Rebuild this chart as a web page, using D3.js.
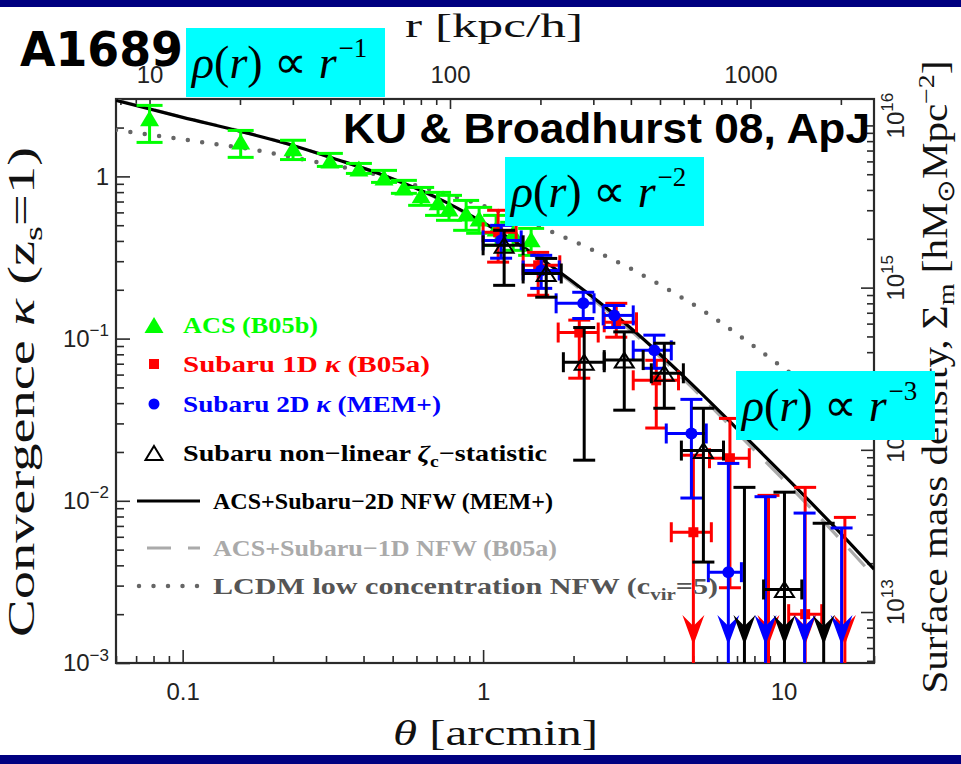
<!DOCTYPE html>
<html>
<head>
<meta charset="utf-8">
<title>A1689 convergence profile</title>
<script src="https://cdn.jsdelivr.net/npm/d3@7/dist/d3.min.js"></script>
<style>
  html, body { margin: 0; padding: 0; background: #fff; }
  svg { display: block; }
</style>
</head>
<body>
<svg id="chart" width="961" height="764"></svg>
<script>
// ---- axis ticks ----
const thetaMajor = [0.1, 1, 10];
const kappaMajor = [1e-3, 1e-2, 1e-1, 1];
const rMajor = [10, 100, 1000];
const sigmaMajor = [1e13, 1e14, 1e15, 1e16];

// ---- conversions for the secondary axes ----
const kpcPerArcmin = 128.9;   // r [kpc/h] per arcmin
const sigmaCrit = 4.85e15;    // Σ_m per unit κ [h M☉ Mpc^-2]

// ---- ACS (B05b): [θ, κ, κ low, κ high] ----
const acs = [
  [0.0776, 2.28, 1.62, 2.74],
  [0.156, 1.64, 1.31, 1.92],
  [0.233, 1.49, 1.27, 1.67],
  [0.309, 1.255, 1.152, 1.386],
  [0.386, 1.12, 1.043, 1.202],
  [0.468, 0.986, 0.918, 1.089],
  [0.545, 0.855, 0.786, 0.945],
  [0.622, 0.764, 0.663, 0.855],
  [0.708, 0.692, 0.575, 0.797],
  [0.770, 0.635, 0.536, 0.764],
  [0.878, 0.591, 0.465, 0.711],
  [0.970, 0.551, 0.446, 0.644],
  [1.105, 0.478, 0.376, 0.575],
  [1.259, 0.446, 0.350, 0.521],
  [1.445, 0.409, 0.326, 0.478]
];

// ---- Subaru profiles: [θ, θ low, θ high, κ, κ low, κ high]; κ low null = upper limit ----
const subaru1D = [
  [1.122, 1.0, 1.288, 0.452, 0.296, 0.618],
  [1.525, 1.359, 1.80, 0.283, 0.185, 0.340],
  [2.09, 1.778, 2.416, 0.109, 0.057, 0.130],
  [2.775, 2.53, 3.24, 0.126, 0.102, 0.165],
  [3.77, 3.16, 4.47, 0.0553, 0.0281, 0.0735],
  [5.01, 4.23, 5.75, 0.0064, null, 0.0191],
  [6.63, 5.67, 7.69, 0.0183, 0.00291, 0.0322],
  [8.91, null, null, null, null, 0.0108],
  [11.8, 10.4, 13.4, 0.0020, null, 0.0121],
  [16.0, null, null, null, null, 0.0079]
];
const subaru2D = [
  [1.148, 1.0, 1.339, 0.403, 0.313, 0.499],
  [1.561, 1.359, 1.792, 0.263, 0.204, 0.326],
  [2.154, 1.75, 2.34, 0.165, 0.133, 0.193],
  [2.733, 2.51, 3.16, 0.139, 0.117, 0.160],
  [3.715, 3.16, 4.23, 0.0846, 0.0656, 0.105],
  [4.935, 4.07, 5.53, 0.0260, 0.0104, 0.0422],
  [6.55, 5.62, 7.24, 0.00363, null, 0.0170],
  [8.71, null, null, null, null, 0.0106],
  [11.75, null, null, null, null, 0.0084],
  [15.6, null, null, null, null, 0.0068]
];
const zetaC = [
  [1.175, 1.0, 1.359, 0.376, 0.213, 0.465],
  [1.622, 1.359, 1.82, 0.252, 0.180, 0.312],
  [2.17, 1.85, 2.53, 0.0715, 0.0178, 0.117],
  [2.95, 2.53, 3.41, 0.0737, 0.0362, 0.110],
  [4.01, 3.63, 4.64, 0.0611, 0.0372, 0.0936],
  [5.41, 4.57, 6.31, 0.0204, 0.00419, 0.0372],
  [7.41, null, null, null, null, 0.0121],
  [10.07, 8.58, 11.5, 0.00284, null, 0.0113],
  [13.6, null, null, null, null, 0.00727]
];

// ---- model profiles: [θ, κ] ----
const nfw2D = [[0.06, 2.94], [0.1, 2.31], [0.156, 1.894], [0.233, 1.552], [0.318, 1.291],
  [0.468, 1.014], [0.687, 0.753], [1.0, 0.52], [1.48, 0.331], [2.17, 0.198], [3.19, 0.111],
  [4.68, 0.0578], [6.87, 0.0288], [10.1, 0.01418], [14.8, 0.00688], [20, 0.00379]];
const nfw1D = [[0.06, 2.96], [0.1, 2.32], [0.156, 1.90], [0.233, 1.555], [0.318, 1.29],
  [0.468, 1.01], [0.687, 0.748], [1.0, 0.515], [1.48, 0.326], [2.17, 0.193], [3.19, 0.107],
  [4.68, 0.0555], [6.87, 0.0272], [10.1, 0.0132], [14.8, 0.0063], [20, 0.00342]];
const lcdm = [[0.06, 1.93], [0.067, 1.875], [0.096, 1.714], [0.124, 1.597], [0.178, 1.446],
  [0.261, 1.255], [0.386, 1.089], [0.598, 0.880], [1.0, 0.66], [1.646, 0.465], [2.291, 0.355],
  [3.04, 0.275], [4.01, 0.207], [5.45, 0.147], [7.40, 0.0991], [10.23, 0.0638], [20, 0.0240]];

// ---- legend labels ----
const legendLabels = [
  [{t: 'ACS (B05b)'}],
  [{t: 'Subaru 1D '}, {t: 'κ', i: true}, {t: ' (B05a)'}],
  [{t: 'Subaru 2D '}, {t: 'κ', i: true}, {t: ' (MEM+)'}],
  [{t: 'Subaru non\u2212linear '}, {t: 'ζ', i: true}, {t: 'c', sub: true}, {t: '\u2212statistic', up: true}],
  [{t: 'ACS+Subaru\u22122D NFW (MEM+)'}],
  [{t: 'ACS+Subaru\u22121D NFW (B05a)'}],
  [{t: 'LCDM low concentration NFW (c'}, {t: 'vir', sub: true}, {t: '=5)', up: true}]
];

// ---------------------------------------------------------------------------
const W = 961, H = 764;
const P = {l: 116, r: 874, t: 99, b: 663};
const x = d3.scaleLog().domain([0.06, 20]).range([P.l, P.r]);
const y = d3.scaleLog().domain([1e-3, 3]).range([P.b, P.t]);
const xr = d3.scaleLog().domain(x.domain().map(v => v * kpcPerArcmin)).range([P.l, P.r]);
const ys = d3.scaleLog().domain(y.domain().map(v => v * sigmaCrit)).range([P.b, P.t]);

const svg = d3.select('#chart');
const AX = '#2a2a2a';
const tickFont = "'Liberation Sans', Arial, sans-serif";
const serif = "'Liberation Serif', 'Times New Roman', serif";

svg.append('rect').attr('width', W).attr('height', H).attr('fill', '#fff');
svg.append('rect').attr('width', W).attr('height', 7).attr('fill', '#000080');
svg.append('rect').attr('y', 755).attr('width', W).attr('height', 9).attr('fill', '#000080');

svg.append('defs').append('clipPath').attr('id', 'plotClip')
  .append('rect').attr('x', P.l).attr('y', P.t).attr('width', P.r - P.l).attr('height', P.b - P.t);

// ---- axes ----
function isMajor(v, majors) { return majors.some(m => Math.abs(v - m) / m < 1e-6); }

function axisGroup(axis, tx, ty) {
  const g = svg.append('g').attr('transform', `translate(${tx},${ty})`).call(axis);
  g.select('.domain').remove();
  g.selectAll('.tick line').attr('stroke', AX).attr('stroke-width', 1.6);
  g.attr('font-family', tickFont).attr('font-size', 24);
  g.selectAll('.tick text').attr('fill', '#222');
  return g;
}
function powLabels(g, fmt) {
  g.selectAll('.tick text').each(function (d) {
    const [base, exp] = fmt(d);
    const t = d3.select(this).text(null);
    t.append('tspan').text(base);
    if (exp) t.append('tspan').attr('font-size', 17).attr('dy', '-0.62em').text(exp);
  });
}

// bottom θ axis
axisGroup(d3.axisBottom(x).tickValues(x.ticks().filter(v => !isMajor(v, thetaMajor)))
  .tickSizeInner(-7).tickSizeOuter(0).tickFormat(''), 0, P.b);
axisGroup(d3.axisBottom(x).tickValues(thetaMajor).tickSizeInner(-13).tickSizeOuter(0)
  .tickPadding(20).tickFormat(d => d < 1 ? '0.1' : String(d)), 0, P.b);

// top r axis
axisGroup(d3.axisTop(xr).tickValues(xr.ticks().filter(v => !isMajor(v, rMajor)))
  .tickSizeInner(-6).tickSizeOuter(0).tickFormat(''), 0, P.t);
axisGroup(d3.axisTop(xr).tickValues(rMajor).tickSizeInner(-10).tickSizeOuter(0)
  .tickPadding(16).tickFormat(d3.format('d')), 0, P.t);

// left κ axis
axisGroup(d3.axisLeft(y).tickValues(y.ticks().filter(v => !isMajor(v, kappaMajor)))
  .tickSizeInner(-8).tickSizeOuter(0).tickFormat(''), P.l, 0);
const leftAxis = axisGroup(d3.axisLeft(y).tickValues(kappaMajor).tickSizeInner(-14).tickSizeOuter(0)
  .tickPadding(7), P.l, 0);
powLabels(leftAxis, d => d === 1 ? ['1'] : ['10', '\u2212' + Math.round(-Math.log10(d))]);

// right Σ axis
axisGroup(d3.axisRight(ys).tickValues(ys.ticks().filter(v => !isMajor(v, sigmaMajor)))
  .tickSizeInner(-7).tickSizeOuter(0).tickFormat(''), P.r, 0);
axisGroup(d3.axisRight(ys).tickValues(sigmaMajor).tickSizeInner(-13).tickSizeOuter(0)
  .tickFormat(''), P.r, 0);
const rightLabels = svg.append('g').attr('font-family', tickFont).attr('font-size', 24).attr('fill', '#222');
sigmaMajor.forEach(v => {
  const t = rightLabels.append('text')
    .attr('transform', `translate(${P.r + 30},${ys(v)}) rotate(-90)`)
    .attr('x', -13);
  t.append('tspan').text('10');
  t.append('tspan').attr('font-size', 17).attr('dy', '-0.62em').text(Math.round(Math.log10(v)));
});

// frame
svg.append('rect').attr('x', P.l).attr('y', P.t).attr('width', P.r - P.l).attr('height', P.b - P.t)
  .attr('fill', 'none').attr('stroke', AX).attr('stroke-width', 2.2);

// ---- model curves ----
const plot = svg.append('g').attr('clip-path', 'url(#plotClip)');
const line = d3.line().x(d => x(d[0])).y(d => y(d[1])).curve(d3.curveMonotoneX);
plot.append('path').datum(lcdm).attr('d', line).attr('fill', 'none')
  .attr('stroke', '#666').attr('stroke-width', 4.5).attr('stroke-linecap', 'round')
  .attr('stroke-dasharray', '0 14.5');
plot.append('path').datum(nfw1D).attr('d', line).attr('fill', 'none')
  .attr('stroke', '#aaa').attr('stroke-width', 3.2).attr('stroke-dasharray', '24 16');
plot.append('path').datum(nfw2D).attr('d', line).attr('fill', 'none')
  .attr('stroke', '#000').attr('stroke-width', 3.2);

// ---- data ----
const GREEN = '#00ff00', RED = '#ff0000', BLUE = '#0000ff', BLACK = '#000';
const triPath = (w, h) => `M0,${-h / 2}L${w / 2},${h / 2}L${-w / 2},${h / 2}Z`;

// ACS points
const gA = plot.append('g');
acs.forEach(([t, k, lo, hi]) => {
  const cx = x(t);
  const e = gA.append('g').attr('stroke', GREEN).attr('stroke-width', 3);
  e.append('line').attr('x1', cx).attr('x2', cx).attr('y1', y(hi)).attr('y2', y(lo));
  [hi, lo].forEach(v => e.append('line').attr('x1', cx - 13).attr('x2', cx + 13).attr('y1', y(v)).attr('y2', y(v)));
  gA.append('path').attr('d', triPath(19, 16)).attr('transform', `translate(${cx},${y(k)})`).attr('fill', GREEN);
});

function subaruSeries(rows, color, marker) {
  const g = plot.append('g');
  const e = g.append('g').attr('stroke', color).attr('stroke-width', 3).attr('fill', 'none');
  rows.forEach(([t, tlo, thi, k, klo, khi]) => {
    const cx = x(t), yTop = y(khi);
    const yBot = klo == null ? P.b : y(klo);
    e.append('line').attr('x1', cx).attr('x2', cx).attr('y1', yTop).attr('y2', yBot);
    e.append('line').attr('x1', cx - 11).attr('x2', cx + 11).attr('y1', yTop).attr('y2', yTop);
    if (klo != null) {
      e.append('line').attr('x1', cx - 11).attr('x2', cx + 11).attr('y1', yBot).attr('y2', yBot);
    } else {
      g.append('path').attr('d', `M${cx},${P.b - 18}L${cx - 11},${P.b - 48}L${cx},${P.b - 37}L${cx + 11},${P.b - 48}Z`)
        .attr('fill', color);
    }
    if (k != null && tlo != null) {
      const cy = y(k);
      e.append('line').attr('x1', x(tlo)).attr('x2', x(thi)).attr('y1', cy).attr('y2', cy);
      [tlo, thi].forEach(v => e.append('line').attr('x1', x(v)).attr('x2', x(v)).attr('y1', cy - 10).attr('y2', cy + 10));
    }
  });
  rows.filter(r => r[3] != null).forEach(([t, , , k]) => marker(g, x(t), y(k)));
}
subaruSeries(subaru1D, RED, (g, cx, cy) =>
  g.append('rect').attr('x', cx - 5).attr('y', cy - 5).attr('width', 10).attr('height', 10).attr('fill', RED));
subaruSeries(subaru2D, BLUE, (g, cx, cy) =>
  g.append('circle').attr('cx', cx).attr('cy', cy).attr('r', 6).attr('fill', BLUE));
subaruSeries(zetaC, BLACK, (g, cx, cy) =>
  g.append('path').attr('d', triPath(19, 15)).attr('transform', `translate(${cx},${cy})`)
    .attr('fill', 'none').attr('stroke', BLACK).attr('stroke-width', 2));

// ---- legend ----
const legendRows = [
  {y: 325, tx: 183, len: 135, color: GREEN},
  {y: 364, tx: 183, len: 247, color: RED},
  {y: 404, tx: 183, len: 258, color: BLUE},
  {y: 453, tx: 183, len: 364, color: BLACK},
  {y: 501, tx: 213, len: 340, color: BLACK},
  {y: 548, tx: 213, len: 344, color: '#aaa'},
  {y: 586, tx: 213, len: 505, color: '#555'}
];
const leg = svg.append('g');
leg.append('path').attr('d', triPath(19, 16)).attr('transform', 'translate(154,325)').attr('fill', GREEN);
leg.append('rect').attr('x', 149).attr('y', 359).attr('width', 10).attr('height', 10).attr('fill', RED);
leg.append('circle').attr('cx', 154).attr('cy', 404).attr('r', 5.5).attr('fill', BLUE);
leg.append('path').attr('d', triPath(17, 14)).attr('transform', 'translate(154,453)')
  .attr('fill', 'none').attr('stroke', BLACK).attr('stroke-width', 2);
leg.append('line').attr('x1', 137).attr('x2', 200).attr('y1', 501).attr('y2', 501)
  .attr('stroke', BLACK).attr('stroke-width', 3.2);
leg.append('line').attr('x1', 147).attr('x2', 200).attr('y1', 548).attr('y2', 548)
  .attr('stroke', '#aaa').attr('stroke-width', 3.2).attr('stroke-dasharray', '24 17');
leg.append('line').attr('x1', 139).attr('x2', 200).attr('y1', 586).attr('y2', 586)
  .attr('stroke', '#666').attr('stroke-width', 4.5).attr('stroke-linecap', 'round').attr('stroke-dasharray', '0 14.5');

legendRows.forEach((row, i) => {
  const t = leg.append('text').attr('x', row.tx).attr('y', row.y + 8)
    .attr('font-family', serif).attr('font-weight', 'bold').attr('font-size', 23)
    .attr('fill', row.color).attr('textLength', row.len).attr('lengthAdjust', 'spacingAndGlyphs');
  legendLabels[i].forEach(seg => {
    const s = t.append('tspan').text(seg.t);
    if (seg.i) s.attr('font-style', 'italic');
    if (seg.sub) s.attr('font-size', 16).attr('dy', 6);
    if (seg.up) s.attr('dy', -6);
  });
});

// ---- axis titles ----
function richText(parent, segs) {
  segs.forEach(seg => {
    const s = parent.append('tspan').text(seg.t);
    if (seg.i) s.attr('font-style', 'italic');
    if (seg.sub) { s.attr('font-size', '0.68em').attr('dy', '0.3em'); }
    if (seg.sup) { s.attr('font-size', '0.68em').attr('dy', '-0.55em'); }
    if (seg.reset) { s.attr('dy', seg.reset); }
  });
}
const titles = svg.append('g').attr('font-family', serif).attr('fill', '#111');
richText(titles.append('text').attr('x', 405).attr('y', 37).attr('font-size', 34)
  .attr('textLength', 178).attr('lengthAdjust', 'spacingAndGlyphs'),
  [{t: 'r [kpc/h]'}]);
richText(titles.append('text').attr('x', 393).attr('y', 745).attr('font-size', 36)
  .attr('textLength', 205).attr('lengthAdjust', 'spacingAndGlyphs'),
  [{t: 'θ', i: true}, {t: ' [arcmin]'}]);
richText(titles.append('text').attr('transform', 'translate(34,392) rotate(-90)')
  .attr('text-anchor', 'middle').attr('font-size', 37)
  .attr('textLength', 490).attr('lengthAdjust', 'spacingAndGlyphs'),
  [{t: 'Convergence '}, {t: 'κ', i: true}, {t: ' (z'}, {t: 's', sub: true}, {t: '=1)', reset: '-0.2em'}]);
richText(titles.append('text').attr('transform', 'translate(947,377) rotate(-90)')
  .attr('text-anchor', 'middle').attr('font-size', 35)
  .attr('textLength', 633).attr('lengthAdjust', 'spacingAndGlyphs'),
  [{t: 'Surface mass density, Σ'}, {t: 'm', sub: true}, {t: ' [hM', reset: '-0.2em'},
   {t: '⊙', sub: true}, {t: 'Mpc', reset: '-0.2em'}, {t: '\u22122', sup: true}, {t: ']', reset: '0.37em'}]);

// ---- annotations ----
const boxes = [
  {x: 186, y: 28, exp: '\u22121'},
  {x: 505, y: 157, exp: '\u22122'},
  {x: 736, y: 371, exp: '\u22123'}
];
boxes.forEach(b => {
  svg.append('rect').attr('x', b.x).attr('y', b.y).attr('width', 199).attr('height', 69).attr('fill', '#00ffff');
  const t = svg.append('text').attr('x', b.x + 6).attr('y', b.y + 50)
    .attr('font-family', serif).attr('font-size', 46).attr('fill', '#000');
  t.append('tspan').attr('font-style', 'italic').text('ρ');
  t.append('tspan').text('(');
  t.append('tspan').attr('font-style', 'italic').text('r');
  t.append('tspan').text(') \u221d ');
  t.append('tspan').attr('font-style', 'italic').text('r');
  t.append('tspan').attr('font-size', 27).attr('dy', -21).attr('dx', 2).text(b.exp);
});

svg.append('text').attr('x', 20).attr('y', 66).attr('font-family', "'DejaVu Sans', sans-serif")
  .attr('font-weight', 'bold').attr('font-size', 48).attr('fill', '#000')
  .attr('textLength', 163).attr('lengthAdjust', 'spacingAndGlyphs').text('A1689');

svg.append('text').attr('x', 343).attr('y', 143).attr('font-family', "'Liberation Sans', Arial, sans-serif")
  .attr('font-weight', 'bold').attr('font-size', 43).attr('fill', '#000')
  .attr('textLength', 527).attr('lengthAdjust', 'spacingAndGlyphs').text('KU & Broadhurst 08, ApJ');
</script>
</body>
</html>
